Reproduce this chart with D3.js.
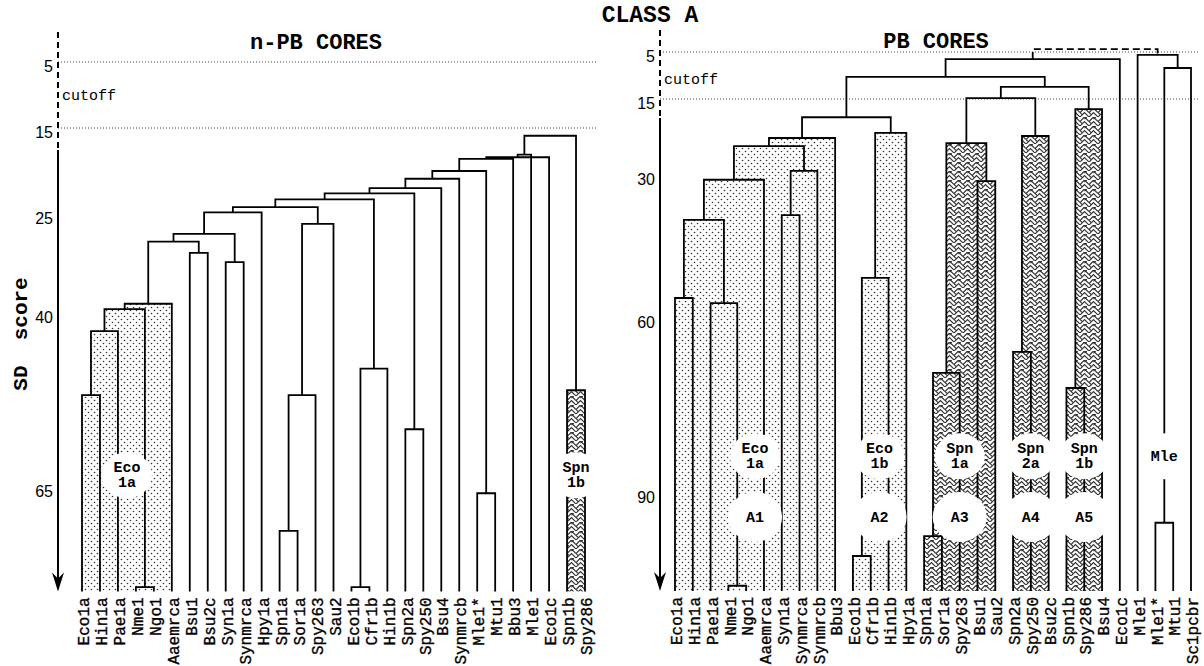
<!DOCTYPE html>
<html>
<head>
<meta charset="utf-8">
<script src="https://cdn.jsdelivr.net/npm/d3@7"></script>
<style>
  body { margin: 0; background: #fff; }
  svg { display: block; }
</style>
</head>
<body>
<script>
// ---- data ----------------------------------------------------------------

// n-PB cores: leaf order along the x axis
const leftLeaves = ['Eco1a', 'Hin1a', 'Pae1a', 'Nme1', 'Ngo1', 'Aaemrca', 'Bsu1', 'Bsu2c',
  'Syn1a', 'Synmrca', 'Hpy1a', 'Spn1a', 'Sor1a', 'Spy263', 'Sau2', 'Eco1b', 'Cfr1b', 'Hin1b',
  'Spn2a', 'Spy250', 'Bsu4', 'Synmrcb', 'Mle1*', 'Mtu1', 'Bbu3', 'Mle1', 'Eco1c', 'Spn1b', 'Spy286'];

// merges: [left child, right child, SD score]; '#n' = n-th merge of the list
const leftMerges = [
  ['Eco1a', 'Hin1a', 51.8],   // 0
  ['#0', 'Pae1a', 42.6],      // 1
  ['Nme1', 'Ngo1', 79.4],     // 2
  ['#1', '#2', 39.4],         // 3
  ['#3', 'Aaemrca', 38.6],    // 4
  ['Bsu1', 'Bsu2c', 30.9],    // 5
  ['#4', '#5', 29.2],         // 6
  ['Syn1a', 'Synmrca', 32.3], // 7
  ['#6', '#7', 28.0],         // 8
  ['#8', 'Hpy1a', 24.8],      // 9
  ['Spn1a', 'Sor1a', 71.3],   // 10
  ['#10', 'Spy263', 51.8],    // 11
  ['#11', 'Sau2', 26.5],      // 12
  ['#9', '#12', 24.2],        // 13
  ['Eco1b', 'Cfr1b', 79.4],   // 14
  ['#14', 'Hin1b', 48.0],     // 15
  ['#13', '#15', 23.3],       // 16
  ['Spn2a', 'Spy250', 56.7],  // 17
  ['#16', '#17', 22.6],       // 18
  ['#18', 'Bsu4', 22.0],      // 19
  ['#19', 'Synmrcb', 20.9],   // 20
  ['Mle1*', 'Mtu1', 65.9],    // 21
  ['#20', '#21', 20.0],       // 22
  ['#22', 'Bbu3', 18.6],      // 23
  ['#23', 'Eco1c', 18.4],     // 24
  ['#24', 'Mle1', 18.1],      // 25
  ['Spn1b', 'Spy286', 51.1],  // 26
  ['#25', '#26', 15.9]        // 27
];
const leftTicks = [5, 15, 25, 40, 65];
const leftLeafScore = 80;
const leftDotted = ['#4'];
const leftWoven = ['#26'];
const leftCallouts = [
  { node: '#4', lines: ['Eco', '1a'] },
  { node: '#26', lines: ['Spn', '1b'] }
];

// PB cores
const rightLeaves = ['Eco1a', 'Hin1a', 'Pae1a', 'Nme1', 'Ngo1', 'Aaemrca', 'Syn1a', 'Synmrca',
  'Synmrcb', 'Bbu3', 'Eco1b', 'Cfr1b', 'Hin1b', 'Hpy1a', 'Spn1a', 'Sor1a', 'Spy263', 'Bsu1',
  'Sau2', 'Spn2a', 'Spy250', 'Bsu2c', 'Spn1b', 'Spy286', 'Bsu4', 'Eco1c', 'Mle1', 'Mle1*',
  'Mtu1', 'Sc1pcbr'];
const rightMerges = [
  ['Eco1a', 'Hin1a', 55.8],    // 0
  ['Nme1', 'Ngo1', 105.9],     // 1
  ['Pae1a', '#1', 56.9],       // 2
  ['#0', '#2', 39.4],          // 3
  ['#3', 'Aaemrca', 31.0],     // 4
  ['Syn1a', 'Synmrca', 38.4],  // 5
  ['#5', 'Synmrcb', 29.2],     // 6
  ['#4', '#6', 24.3],          // 7
  ['#7', 'Bbu3', 22.7],        // 8
  ['Eco1b', 'Cfr1b', 100.8],   // 9
  ['#9', 'Hin1b', 51.6],       // 10
  ['#10', 'Hpy1a', 21.7],      // 11
  ['#8', '#11', 18.6],         // 12
  ['Spn1a', 'Sor1a', 97.4],    // 13
  ['#13', 'Spy263', 69.4],     // 14
  ['Bsu1', 'Sau2', 31.3],      // 15
  ['#14', '#15', 23.7],        // 16
  ['Spn2a', 'Spy250', 65.8],   // 17
  ['#17', 'Bsu2c', 22.3],      // 18
  ['#16', '#18', 14.8],        // 19
  ['Spn1b', 'Spy286', 72.0],   // 20
  ['#20', 'Bsu4', 17.0],       // 21
  ['#19', '#21', 12.4],        // 22
  ['#12', '#22', 10.3],        // 23
  ['#23', 'Eco1c', 6.5],       // 24
  ['Mle1*', 'Mtu1', 95.1],     // 25
  ['#25', 'Sc1pcbr', 8.4],     // 26
  ['Mle1', '#26', 5.6],        // 27
  ['#24', '#27', 4.4]          // 28 (dashed)
];
const rightTicks = [5, 15, 30, 60, 90];
const rightLeafScore = 106.8;
const rightDotted = ['#8', '#11'];
const rightWoven = ['#16', '#18', '#21'];
const rightCallouts = [
  { node: '#8', lines: ['Eco', '1a'] },
  { node: '#11', lines: ['Eco', '1b'] },
  { node: '#16', lines: ['Spn', '1a'] },
  { node: '#18', lines: ['Spn', '2a'] },
  { node: '#21', lines: ['Spn', '1b'] },
  { node: '#27', lines: ['Mle'] }
];
const rightGroups = [
  { node: '#8', label: 'A1' },
  { node: '#11', label: 'A2' },
  { node: '#16', label: 'A3' },
  { node: '#18', label: 'A4' },
  { node: '#21', label: 'A5' }
];

// ---- layout --------------------------------------------------------------
const WIDTH = 1204, HEIGHT = 666;
const MONO = "'Liberation Mono', 'Courier New', monospace";
const SANS = "'Liberation Sans', Arial, sans-serif";

const svg = d3.select('body').append('svg')
  .attr('width', WIDTH)
  .attr('height', HEIGHT);

const defs = svg.append('defs');

const dots = defs.append('pattern')
  .attr('id', 'dots')
  .attr('patternUnits', 'userSpaceOnUse')
  .attr('width', 6).attr('height', 6);
dots.append('rect').attr('width', 6).attr('height', 6).attr('fill', '#fff');
dots.append('circle').attr('cx', 1.5).attr('cy', 1.5).attr('r', 0.8).attr('fill', '#333');
dots.append('circle').attr('cx', 4.5).attr('cy', 4.5).attr('r', 0.8).attr('fill', '#333');

// herringbone-like weave for the Spn cores
const weave = defs.append('pattern')
  .attr('id', 'weave')
  .attr('patternUnits', 'userSpaceOnUse')
  .attr('width', 9).attr('height', 9);
weave.append('rect').attr('width', 9).attr('height', 9).attr('fill', '#fff');
weave.append('path')
  .attr('d', 'M0,4.5 L4.5,0 L9,4.5 M0,9 L4.5,4.5 L9,9 M4.5,2.2 L6.7,0 M2.2,6.7 L0,4.5')
  .attr('fill', 'none')
  .attr('stroke', '#333')
  .attr('stroke-width', 1.2);

const panels = [
  {
    leaves: leftLeaves, merges: leftMerges, ticks: leftTicks, leafScore: leftLeafScore,
    dotted: leftDotted, woven: leftWoven, callouts: leftCallouts, groups: [],
    axisX: 58, xRange: [82, 585], yRange: [62, 128, 214, 313, 487],
    dashTop: 32, dashBottom: 150, guideRight: 598, cutoffY: 100,
    title: 'n-PB CORES', titleX: 316, titleY: 49, dashedRoot: false,
    calloutScore: 63.3
  },
  {
    leaves: rightLeaves, merges: rightMerges, ticks: rightTicks, leafScore: rightLeafScore,
    dotted: rightDotted, woven: rightWoven, callouts: rightCallouts, groups: rightGroups,
    axisX: 660, xRange: [675, 1191], yRange: [52, 99, 175, 318, 493],
    dashTop: 30, dashBottom: 118, guideRight: 1198, cutoffY: 84,
    title: 'PB CORES', titleX: 936, titleY: 48, dashedRoot: true,
    calloutScore: 83.7, groupScore: 94.1
  }
];

svg.append('text')
  .attr('x', 650).attr('y', 22)
  .attr('text-anchor', 'middle')
  .style('font-family', MONO).style('font-weight', 'bold').style('font-size', '23px')
  .text('CLASS A');

svg.append('text')
  .attr('transform', 'translate(27,334) rotate(-90)')
  .attr('text-anchor', 'middle')
  .style('font-family', MONO).style('font-weight', 'bold').style('font-size', '21px')
  .style('white-space', 'pre')
  .text('SD  score');

panels.forEach(p => {
  const g = svg.append('g');

  const x = d3.scalePoint().domain(p.leaves).range(p.xRange);
  // piecewise scale: the figure's SD axis is not uniform between ticks
  const y = d3.scaleLinear().domain(p.ticks).range(p.yRange);
  const baseY = y(p.leafScore);

  // build the tree
  const nodes = new Map();
  p.leaves.forEach(name => nodes.set(name, { x: x(name), h: p.leafScore, lo: x(name), hi: x(name) }));
  p.merges.forEach((m, i) => {
    const a = nodes.get(m[0]), b = nodes.get(m[1]);
    nodes.set('#' + i, {
      x: (a.x + b.x) / 2, h: m[2], a, b,
      lo: Math.min(a.lo, b.lo), hi: Math.max(a.hi, b.hi), last: i === p.merges.length - 1
    });
  });
  const subtree = (n, out = []) => {
    if (n.a) { out.push(n); subtree(n.a, out); subtree(n.b, out); }
    return out;
  };

  // guide lines at 5 and 15 (cutoff band)
  [p.ticks[0], p.ticks[1]].forEach(t => {
    g.append('line')
      .attr('x1', p.axisX).attr('x2', p.guideRight)
      .attr('y1', y(t)).attr('y2', y(t))
      .attr('stroke', '#444').attr('stroke-width', 1)
      .attr('stroke-dasharray', '1,2');
  });

  // pattern fills of the core clusters
  const fills = [];
  p.dotted.forEach(id => subtree(nodes.get(id)).forEach(n => fills.push({ n, f: 'url(#dots)' })));
  p.woven.forEach(id => subtree(nodes.get(id)).forEach(n => fills.push({ n, f: 'url(#weave)' })));
  g.selectAll('rect.fill').data(fills).join('rect')
    .attr('class', 'fill')
    .attr('x', d => d.n.a.x)
    .attr('width', d => d.n.b.x - d.n.a.x)
    .attr('y', d => y(d.n.h))
    .attr('height', d => baseY - y(d.n.h))
    .attr('fill', d => d.f);

  // dendrogram links
  const merges = p.merges.map((m, i) => nodes.get('#' + i));
  g.selectAll('path.link').data(merges).join('path')
    .attr('class', 'link')
    .attr('d', n => `M${n.a.x},${y(n.a.h)}V${y(n.h)}H${n.b.x}V${y(n.b.h)}`)
    .attr('fill', 'none')
    .attr('stroke', '#000')
    .attr('stroke-width', 1.8)
    .attr('stroke-dasharray', n => (p.dashedRoot && n.last) ? '7,4' : null);

  // white callouts over the clusters
  const callout = (cx, cy, lines, rx, ry) => {
    g.append('ellipse')
      .attr('cx', cx).attr('cy', cy).attr('rx', rx).attr('ry', ry)
      .attr('fill', '#fff');
    lines.forEach((t, i) => {
      g.append('text')
        .attr('x', cx)
        .attr('y', cy + (lines.length === 1 ? 5 : (i === 0 ? -3 : 12)))
        .attr('text-anchor', 'middle')
        .style('font-family', MONO).style('font-weight', 'bold').style('font-size', '15px')
        .text(t);
    });
  };
  p.callouts.forEach(c => {
    const n = nodes.get(c.node);
    callout((n.lo + n.hi) / 2, y(p.calloutScore), c.lines, 25, 23);
  });
  p.groups.forEach(c => {
    const n = nodes.get(c.node);
    callout((n.lo + n.hi) / 2, y(p.groupScore), [c.label], 27, 25);
  });

  // SD axis: dashed above the cutoff, solid below, arrow at the bottom
  g.append('line')
    .attr('x1', p.axisX).attr('x2', p.axisX)
    .attr('y1', p.dashTop).attr('y2', p.dashBottom)
    .attr('stroke', '#000').attr('stroke-width', 2)
    .attr('stroke-dasharray', '6,4');
  g.append('line')
    .attr('x1', p.axisX).attr('x2', p.axisX)
    .attr('y1', p.dashBottom).attr('y2', baseY - 8)
    .attr('stroke', '#000').attr('stroke-width', 2);
  g.append('path')
    .attr('d', `M${p.axisX},${baseY}L${p.axisX - 6},${baseY - 19}L${p.axisX},${baseY - 13}L${p.axisX + 6},${baseY - 19}Z`)
    .attr('fill', '#000');

  const axis = d3.axisLeft(y).tickValues(p.ticks).tickSize(0).tickPadding(5).tickFormat(d3.format('d'));
  const ax = g.append('g')
    .attr('transform', `translate(${p.axisX},0)`)
    .call(axis);
  ax.select('.domain').remove();
  ax.selectAll('text')
    .attr('dy', '0.6em')
    .style('font-family', SANS).style('font-size', '16px').attr('fill', '#000');

  g.append('text')
    .attr('x', p.axisX + 4).attr('y', p.cutoffY)
    .style('font-family', MONO).style('font-size', '15px')
    .text('cutoff');

  g.append('text')
    .attr('x', p.titleX).attr('y', p.titleY)
    .attr('text-anchor', 'middle')
    .style('font-family', MONO).style('font-weight', 'bold').style('font-size', '22px')
    .text(p.title);

  // leaf labels, read bottom to top
  g.selectAll('text.leaf').data(p.leaves).join('text')
    .attr('class', 'leaf')
    .attr('transform', d => `translate(${x(d)},${baseY + 6}) rotate(-90)`)
    .attr('text-anchor', 'end')
    .attr('dy', '0.45em')
    .style('font-family', MONO).style('font-size', '16px')
    .attr('stroke', '#000').attr('stroke-width', 0.35)
    .text(d => d);
});
</script>
</body>
</html>
